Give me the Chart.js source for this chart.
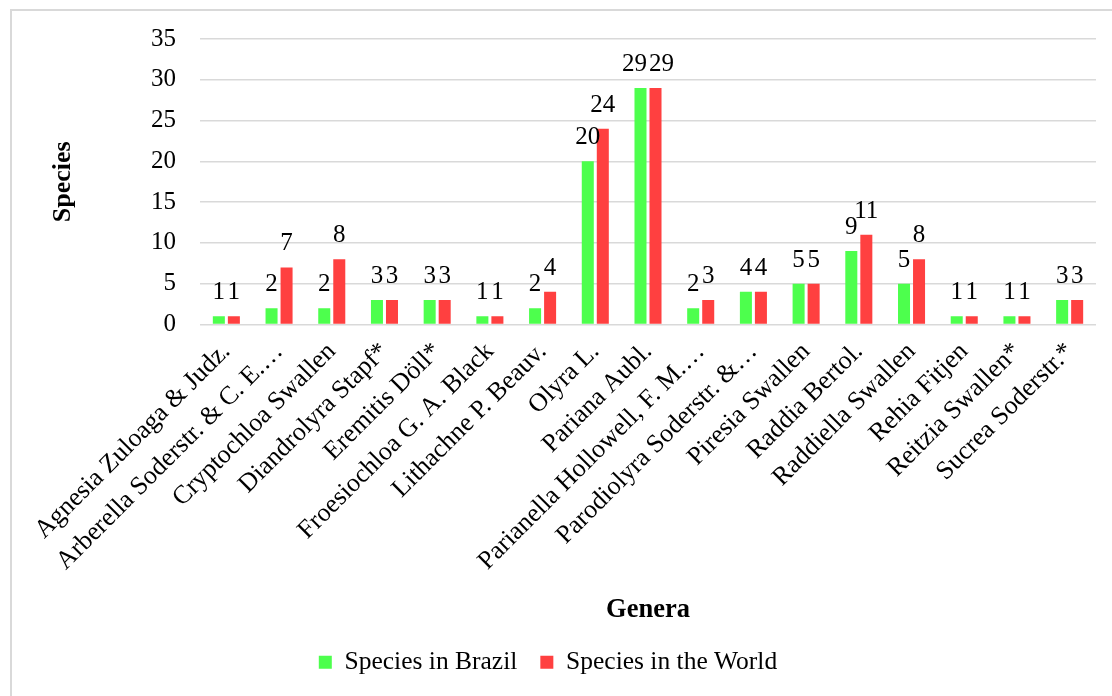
<!DOCTYPE html>
<html>
<head>
<meta charset="utf-8">
<script src="https://cdn.jsdelivr.net/npm/chart.js@4.4.1/dist/chart.umd.min.js"></script>
<style>
  html, body { margin: 0; padding: 0; background: #fff; overflow: hidden; }
  #wrap { position: relative; width: 1112px; height: 696px; }
  #frame {
    position: absolute; left: 10px; top: 9px; width: 1200px; height: 800px;
    border: 2px solid #d9d9d9; box-sizing: border-box; pointer-events: none;
  }
  canvas { display: block; }
</style>
</head>
<body>
<div id="wrap">
  <canvas id="chart" width="1112" height="696"></canvas>
  <div id="frame"></div>
</div>
<script>
// Genera and species counts
const genera = [
  'Agnesia Zuloaga & Judz.',
  'Arberella Soderstr. & C. E.…',
  'Cryptochloa Swallen',
  'Diandrolyra Stapf*',
  'Eremitis Döll*',
  'Froesiochloa G. A. Black',
  'Lithachne P. Beauv.',
  'Olyra L.',
  'Pariana Aubl.',
  'Parianella Hollowell, F. M.…',
  'Parodiolyra Soderstr. &…',
  'Piresia Swallen',
  'Raddia Bertol.',
  'Raddiella Swallen',
  'Rehia Fitjen',
  'Reitzia Swallen*',
  'Sucrea Soderstr.*'
];
const speciesBrazil = [1, 2, 2, 3, 3, 1, 2, 20, 29, 2, 4, 5, 9, 5, 1, 1, 3];
const speciesWorld  = [1, 7, 8, 3, 3, 1, 4, 24, 29, 3, 4, 5, 11, 8, 1, 1, 3];
const yTicks = [0, 5, 10, 15, 20, 25, 30, 35];

const SERIF = '"Liberation Serif", "Times New Roman", serif';
const LABEL_SIZE = 25;

// Value labels above each bar; labels of a pair that sit at the same
// height and collide are pushed apart so both stay readable.
const barValueLabels = {
  id: 'barValueLabels',
  afterDatasetsDraw(chart) {
    const ctx = chart.ctx;
    ctx.save();
    ctx.font = LABEL_SIZE + 'px ' + SERIF;
    ctx.fillStyle = '#000';
    ctx.textAlign = 'center';
    ctx.textBaseline = 'alphabetic';
    const metaA = chart.getDatasetMeta(0);
    const metaB = chart.getDatasetMeta(1);
    const dsA = chart.data.datasets[0].data;
    const dsB = chart.data.datasets[1].data;
    metaA.data.forEach((barA, i) => {
      const barB = metaB.data[i];
      const tA = String(dsA[i]), tB = String(dsB[i]);
      let xA = barA.x, xB = barB.x;
      const wA = ctx.measureText(tA).width, wB = ctx.measureText(tB).width;
      const need = (wA + wB) / 2 + 2;
      if (Math.abs(barA.y - barB.y) < LABEL_SIZE * 0.6 && xB - xA < need) {
        const shift = (need - (xB - xA)) / 2;
        xA -= shift; xB += shift;
      }
      ctx.fillText(tA, xA, barA.y - 17);
      ctx.fillText(tB, xB, barB.y - 17);
    });
    ctx.restore();
  }
};

new Chart(document.getElementById('chart'), {
  type: 'bar',
  data: {
    labels: genera,
    datasets: [
      { label: 'Species in Brazil', data: speciesBrazil, backgroundColor: '#4dff4d',
        categoryPercentage: 0.57, barPercentage: 0.8 },
      { label: 'Species in the World', data: speciesWorld, backgroundColor: '#ff4040',
        categoryPercentage: 0.57, barPercentage: 0.8 }
    ]
  },
  options: {
    responsive: false,
    animation: false,
    devicePixelRatio: 1,
    layout: { padding: { left: 0, right: 16, top: 39, bottom: 11 } },
    plugins: {
      legend: {
        position: 'bottom',
        labels: {
          boxWidth: 13, boxHeight: 13, padding: 23,
          color: '#000',
          font: { family: SERIF, size: 25.5 }
        }
      },
      tooltip: { enabled: false }
    },
    scales: {
      x: {
        grid: { display: false },
        border: { display: false },
        ticks: {
          autoSkip: false, maxRotation: 45, minRotation: 45, padding: 4,
          color: '#000', font: { family: SERIF, size: 26 }
        },
        title: {
          display: true, text: 'Genera', color: '#000',
          font: { family: SERIF, size: 26.5, weight: 'bold' },
          padding: { top: 20, bottom: 0 }
        },
        afterFit(scale) { scale.height = 302; }
      },
      y: {
        min: 0, max: 35,
        afterBuildTicks(scale) { scale.ticks = yTicks.map(v => ({ value: v })); },
        grid: { color: '#d9d9d9', lineWidth: 1.5, drawTicks: false },
        border: { display: false },
        ticks: { padding: 24, color: '#000', font: { family: SERIF, size: 25 } },
        title: {
          display: true, text: 'Species', color: '#000',
          font: { family: SERIF, size: 26, weight: 'bold' },
          padding: { top: 48, bottom: 0 }
        },
        afterFit(scale) { scale.width = 200; }
      }
    }
  },
  plugins: [barValueLabels]
});
</script>
</body>
</html>
